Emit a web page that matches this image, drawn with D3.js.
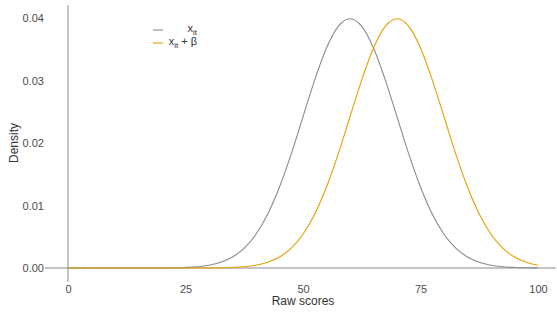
<!DOCTYPE html>
<html>
<head>
<meta charset="utf-8">
<title>density</title>
<style>
  body { margin: 0; background: #fff; }
  text { font-family: "Liberation Sans", Arial, sans-serif; }
</style>
</head>
<body>
<main></main>
<script src="https://cdn.jsdelivr.net/npm/d3@7"></script>
<script>
    // raw scores, step 2.5
    var scores = d3.range(0, 100.01, 2.5);

    // density (x_it)
    var densityBase = [0, 0, 0, 0, 0, 0, 0, 0, 0.00001, 0.00004, 0.00009, 0.0002, 0.00044,
        0.00091, 0.00175, 0.00317, 0.0054, 0.00863, 0.01295, 0.01826, 0.0242, 0.03011,
        0.0352, 0.03867, 0.03989, 0.03867, 0.0352, 0.03011, 0.0242, 0.01826, 0.01295,
        0.00863, 0.0054, 0.00317, 0.00175, 0.00091, 0.00044, 0.0002, 0.00009, 0.00004, 0.00001];

    // density (x_it + beta)
    var densityShift = [0, 0, 0, 0, 0, 0, 0, 0, 0, 0, 0, 0, 0.00001, 0.00004, 0.00009,
        0.0002, 0.00044, 0.00091, 0.00175, 0.00317, 0.0054, 0.00863, 0.01295, 0.01826,
        0.0242, 0.03011, 0.0352, 0.03867, 0.03989, 0.03867, 0.0352, 0.03011, 0.0242,
        0.01826, 0.01295, 0.00863, 0.0054, 0.00317, 0.00175, 0.00091, 0.00044];

    var xTicks = [0, 25, 50, 75, 100];
    var yTicks = [0, 0.01, 0.02, 0.03, 0.04];

    var width = 557;
    var height = 312;
    var svg = d3.select("main")
        .append("svg")
        .attr("width", width)
        .attr("height", height);

    var x = d3.scaleLinear().domain([0, 100]).range([68, 538]);
    var y = d3.scaleLinear().domain([0, 0.04]).range([268, 18]);

    // reference lines
    svg.append("line")
        .attr("x1", 45).attr("x2", 556)
        .attr("y1", y(0)).attr("y2", y(0))
        .attr("stroke", "#8a8a8a").attr("stroke-width", 1);
    svg.append("line")
        .attr("x1", x(0)).attr("x2", x(0))
        .attr("y1", 5).attr("y2", 282)
        .attr("stroke", "#8a8a8a").attr("stroke-width", 1);

    // axes without domain / ticks
    var xAxis = svg.append("g")
        .attr("transform", "translate(0," + 282 + ")")
        .call(d3.axisBottom(x).tickValues(xTicks).tickSize(0).tickFormat(d3.format("d")));
    var yAxis = svg.append("g")
        .attr("transform", "translate(" + 47 + ",0)")
        .call(d3.axisLeft(y).tickValues(yTicks).tickSize(0).tickFormat(d3.format(".2f")));
    [xAxis, yAxis].forEach(function (g) {
        g.select(".domain").remove();
        g.selectAll("text")
            .attr("fill", "#4d4d4d")
            .style("font-size", "11px")
            .style("font-family", "'Liberation Sans', Arial, sans-serif");
    });

    svg.append("text")
        .attr("x", x(50)).attr("y", 305)
        .attr("text-anchor", "middle")
        .attr("fill", "#333")
        .style("font-size", "12px")
        .text("Raw scores");
    svg.append("text")
        .attr("transform", "translate(18," + 143 + ") rotate(-90)")
        .attr("text-anchor", "middle")
        .attr("fill", "#333")
        .style("font-size", "12px")
        .text("Density");

    var line = d3.line()
        .x(function (d) { return x(d[0]); })
        .y(function (d) { return y(d[1]); })
        .curve(d3.curveMonotoneX);

    var series = [
        { values: densityBase, color: "#8c8c8c" },
        { values: densityShift, color: "#E69F00" }
    ];

    svg.selectAll("path.curve")
        .data(series)
        .enter()
        .append("path")
        .attr("class", "curve")
        .attr("fill", "none")
        .attr("stroke", function (d) { return d.color; })
        .attr("stroke-width", 1.1)
        .attr("d", function (d) {
            return line(scores.map(function (s, i) { return [s, d.values[i]]; }));
        });

    // legend
    var legend = svg.append("g");
    var items = [
        { color: "#8c8c8c", y: 30, tail: "" },
        { color: "#E69F00", y: 43, tail: " + \u03b2" }
    ];
    items.forEach(function (it) {
        legend.append("line")
            .attr("x1", 153).attr("x2", 163)
            .attr("y1", it.y).attr("y2", it.y)
            .attr("stroke", it.color).attr("stroke-width", 1.1);
        var t = legend.append("text")
            .attr("x", 197).attr("y", it.y + 2)
            .attr("text-anchor", "end")
            .attr("fill", "#333")
            .style("font-size", "11px");
        t.append("tspan").text("x");
        t.append("tspan").attr("dy", 2.5).style("font-size", "8px").text("it");
        t.append("tspan").attr("dy", -2.5).text(it.tail);
    });
</script>
</body>
</html>
